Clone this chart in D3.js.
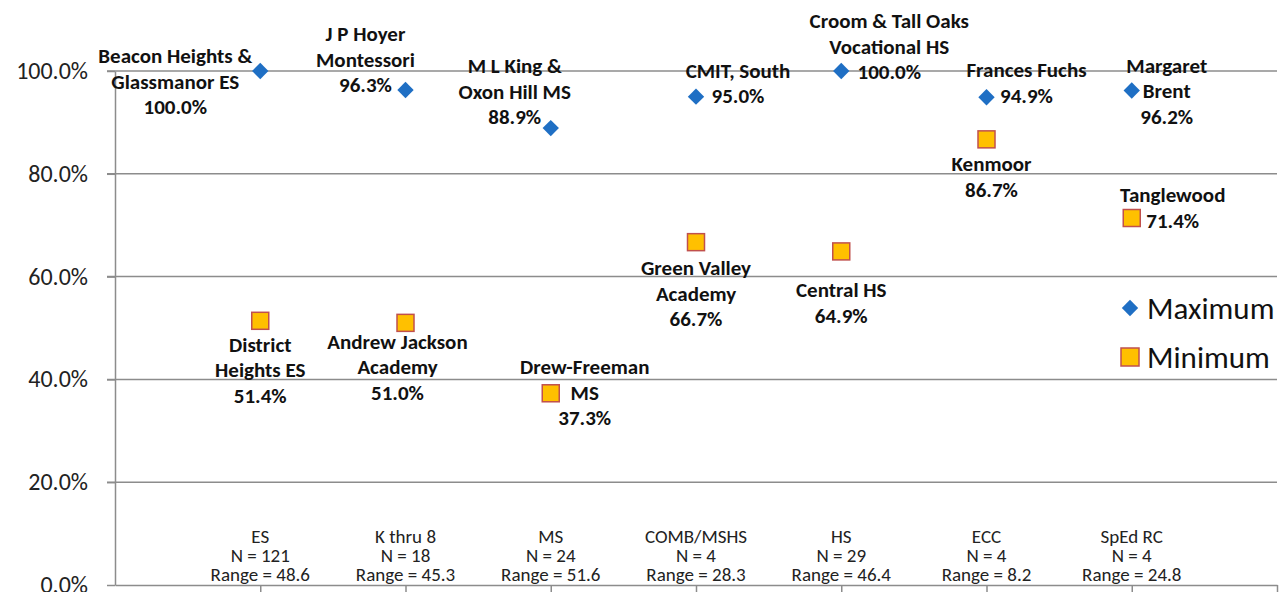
<!DOCTYPE html>
<html>
<head>
<meta charset="utf-8">
<script src="https://cdn.jsdelivr.net/npm/d3@7"></script>
<style>
  body { margin: 0; background: #fff; }
  svg { font-family: Carlito, Lato, "Liberation Sans", sans-serif; }
  .grid line, .axis line, .axis path { stroke: #8c8c8c; stroke-width: 1.5; }
  .ylab { font-size: 24px; fill: #222; }
  .cat { font-size: 19px; fill: #222; }
  .dlab { font-size: 21px; font-weight: bold; fill: #111; }
  .leg { font-size: 31px; fill: #111; }
</style>
</head>
<body>
<svg class="chart" width="1288" height="592"></svg>
<script>
const categories = ['ES', 'K thru 8', 'MS', 'COMB/MSHS', 'HS', 'ECC', 'SpEd RC'];
const counts = [121, 18, 24, 4, 29, 4, 4];
const ranges = ['48.6', '45.3', '51.6', '28.3', '46.4', '8.2', '24.8'];
const maxValues = [100.0, 96.3, 88.9, 95.0, 100.0, 94.9, 96.2];
const minValues = [51.4, 51.0, 37.3, 66.7, 64.9, 86.7, 71.4];
const maxNames = [
    ['Beacon Heights &', 'Glassmanor ES'],
    ['J P Hoyer', 'Montessori'],
    ['M L King &', 'Oxon Hill MS'],
    ['CMIT, South'],
    ['Croom & Tall Oaks', 'Vocational HS'],
    ['Frances Fuchs'],
    ['Margaret', 'Brent']
];
const minNames = [
    ['District', 'Heights ES'],
    ['Andrew Jackson', 'Academy'],
    ['Drew-Freeman', 'MS'],
    ['Green Valley', 'Academy'],
    ['Central HS'],
    ['Kenmoor'],
    ['Tanglewood']
];
const yTicks = [0, 20, 40, 60, 80, 100];

// label block placement relative to each marker: center x offset, first baseline offset
const maxLabelPos = [[-85, -8], [-40, -49], [-36, -55], [42, -19], [48, -43], [40, -20], [35, -18]];
const minLabelPos = [[0, 31], [-8, 26], [34, -19], [0, 33], [0, 46], [5, 32], [41, -16]];

const margin = {left: 115, right: 11, top: 71, bottom: 7};
const width = 1288, height = 592;
const lineH = 25.5;

const svg = d3.select('.chart');

const x = d3.scaleLinear().domain([0, 8]).range([margin.left, width - margin.right]);
const y = d3.scaleLinear().domain([0, 100]).range([height - margin.bottom, margin.top]);

// gridlines
svg.append('g')
    .attr('class', 'grid')
    .selectAll('line')
    .data(yTicks.filter(d => d > 0))
    .enter().append('line')
    .attr('x1', margin.left - 8)
    .attr('x2', x(8))
    .attr('y1', d => y(d))
    .attr('y2', d => y(d));

// y axis
svg.append('g')
    .attr('class', 'axis')
    .attr('transform', `translate(${margin.left},0)`)
    .call(d3.axisLeft(y).tickValues(yTicks).tickSize(8).tickSizeOuter(0).tickFormat(() => ''));

svg.selectAll('.ylab')
    .data(yTicks)
    .enter().append('text')
    .attr('class', 'ylab')
    .attr('x', margin.left - 27)
    .attr('y', d => y(d) + 8)
    .attr('text-anchor', 'end')
    .text(d => d.toFixed(1) + '%');

// x axis
svg.append('g')
    .attr('class', 'axis')
    .attr('transform', `translate(0,${y(0)})`)
    .call(d3.axisBottom(x).tickValues(d3.range(1, 9)).tickSize(8).tickSizeOuter(0).tickFormat(() => ''));

const cats = svg.selectAll('.catg')
    .data(categories)
    .enter().append('text')
    .attr('class', 'cat')
    .attr('text-anchor', 'middle')
    .attr('transform', (d, i) => `translate(${x(i + 1)},${y(0) - 42})`);

cats.append('tspan').attr('x', 0).attr('y', 0).text(d => d);
cats.append('tspan').attr('x', 0).attr('y', 19).text((d, i) => `N = ${counts[i]}`);
cats.append('tspan').attr('x', 0).attr('y', 38).text((d, i) => `Range = ${ranges[i]}`);

// markers
const diamond = d3.symbol().type(d3.symbolDiamond2).size(170);

svg.selectAll('.maxpt')
    .data(maxValues)
    .enter().append('path')
    .attr('class', 'maxpt')
    .attr('d', diamond)
    .attr('transform', (d, i) => `translate(${x(i + 1)},${y(d)})`)
    .style('fill', '#1f6fc4');

svg.selectAll('.minpt')
    .data(minValues)
    .enter().append('rect')
    .attr('class', 'minpt')
    .attr('x', (d, i) => x(i + 1) - 8.5)
    .attr('y', d => y(d) - 8.5)
    .attr('width', 17)
    .attr('height', 17)
    .style('fill', '#ffc000')
    .style('stroke', '#c0504d')
    .style('stroke-width', 1.5);

// data labels
function drawLabels(values, names, pos) {
    const g = svg.append('g');
    values.forEach((v, i) => {
        const lines = names[i].concat([v.toFixed(1) + '%']);
        const t = g.append('text')
            .attr('class', 'dlab')
            .attr('text-anchor', 'middle')
            .attr('transform', `translate(${x(i + 1) + pos[i][0]},${y(v) + pos[i][1]})`);
        t.selectAll('tspan')
            .data(lines)
            .enter().append('tspan')
            .attr('x', 0)
            .attr('y', (d, j) => j * lineH)
            .text(d => d);
    });
}
drawLabels(maxValues, maxNames, maxLabelPos);
drawLabels(minValues, minNames, minLabelPos);

// legend
const legend = svg.append('g').attr('transform', 'translate(1130,308)');
legend.append('path')
    .attr('d', diamond)
    .style('fill', '#1f6fc4');
legend.append('text')
    .attr('class', 'leg')
    .attr('x', 17)
    .attr('y', 11)
    .text('Maximum');
legend.append('rect')
    .attr('x', -9)
    .attr('y', 40)
    .attr('width', 18)
    .attr('height', 18)
    .style('fill', '#ffc000')
    .style('stroke', '#c0504d')
    .style('stroke-width', 1.5);
legend.append('text')
    .attr('class', 'leg')
    .attr('x', 17)
    .attr('y', 60)
    .text('Minimum');
</script>
</body>
</html>
